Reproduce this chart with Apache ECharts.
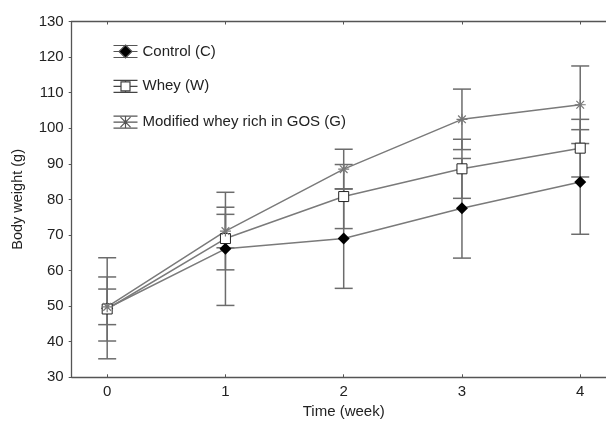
<!DOCTYPE html>
<html>
<head>
<meta charset="utf-8">
<script src="https://cdn.jsdelivr.net/npm/echarts@6/dist/echarts.min.js"></script>
<style>html,body{margin:0;padding:0;background:#fff}#c{width:606px;height:423px}</style>
</head>
<body>
<div id="c"></div>
<script>
// ---- data ----
const weeks = [0, 1, 2, 3, 4];
const xTickValues = [0, 1, 2, 3, 4];
const seriesNames = ['Control (C)', 'Whey (W)', 'Modified whey rich in GOS (G)'];
const controlMean = [49.4, 66.1, 69.0, 77.5, 84.9];
const controlErr  = [14.2, 15.9, 14.0, 14.0, 14.7];
const wheyMean    = [49.2, 69.0, 80.8, 88.6, 94.4];
const wheyErr     = [9.0, 8.8, 9.0, 8.3, 8.1];
const gosMean     = [49.8, 71.1, 88.5, 102.5, 106.6];
const gosErr      = [5.0, 4.7, 5.6, 8.5, 10.9];

const FONT = 'Liberation Sans, Arial, sans-serif';
const LINE = '#7a7a7a';
const ERR = '#6c6c6c';

function pts(mean) { return weeks.map((w, i) => [w, mean[i]]); }
function errs(mean, err) { return weeks.map((w, i) => [w, mean[i] - err[i], mean[i] + err[i]]); }

function errRender(params, api) {
  const x = api.value(0), lo = api.value(1), hi = api.value(2);
  const a = api.coord([x, lo]), b = api.coord([x, hi]);
  const w = 9;
  const st = { stroke: ERR, lineWidth: 1.5 };
  return {
    type: 'group',
    children: [
      { type: 'line', shape: { x1: a[0], y1: a[1], x2: b[0], y2: b[1] }, style: st },
      { type: 'line', shape: { x1: a[0] - w, y1: a[1], x2: a[0] + w, y2: a[1] }, style: st },
      { type: 'line', shape: { x1: b[0] - w, y1: b[1], x2: b[0] + w, y2: b[1] }, style: st }
    ]
  };
}

const asterisk = 'path://M5,0L5,10M0,5L10,5M1.5,1.5L8.5,8.5M8.5,1.5L1.5,8.5';
const caps = 'M0,1L24,1M0,13L24,13';

const chart = echarts.init(document.getElementById('c'), null, { renderer: 'canvas' });
chart.setOption({
  animation: false,
  backgroundColor: '#fff',
  textStyle: { fontFamily: FONT },
  grid: { left: 71.7, right: -9.7, top: 21.5, bottom: 45.7, containLabel: false, outerBoundsMode: 'none' },
  legend: {
    orient: 'vertical',
    left: 106,
    top: 39,
    itemWidth: 24,
    itemHeight: 14,
    itemGap: 19.8,
    textStyle: { fontFamily: FONT, fontSize: 15, color: '#222', lineHeight: 14 },
    data: [
      { name: seriesNames[0], icon: 'path://' + caps + 'M0,7L5.5,7M18.5,7L24,7M12,0.5L18.5,7L12,13.5L5.5,7Z',
        itemStyle: { color: '#000', borderColor: '#555', borderWidth: 1.2 } },
      { name: seriesNames[1], icon: 'path://' + caps + 'M0,7L7.5,7M16.5,7L24,7M12,1L12,2.5M12,11.5L12,13M7.5,2.5L16.5,2.5L16.5,11.5L7.5,11.5Z',
        itemStyle: { color: '#fff', borderColor: '#444', borderWidth: 1.2 } },
      { name: seriesNames[2], icon: 'path://' + caps + 'M0,7L24,7M12,1L12,13M7,2L17,12M17,2L7,12',
        itemStyle: { color: 'none', borderColor: '#555', borderWidth: 1.2 } }
    ]
  },
  xAxis: [{
    type: 'value', min: -0.3, max: 4.3,
    name: 'Time (week)', nameLocation: 'middle', nameGap: 27,
    nameTextStyle: { fontFamily: FONT, fontSize: 15, color: '#222' },
    axisLine: { show: true, onZero: false, lineStyle: { color: '#555', width: 1.3 } },
    axisTick: { show: true, inside: true, length: 3, customValues: xTickValues, lineStyle: { color: '#555' } },
    axisLabel: { customValues: xTickValues, fontFamily: FONT, fontSize: 15, color: '#222', margin: 7 },
    splitLine: { show: false }
  }, {
    type: 'value', position: 'top', min: -0.3, max: 4.3,
    axisLine: { show: true, onZero: false, lineStyle: { color: '#555', width: 1.3 } },
    axisTick: { show: true, inside: true, length: 3, customValues: xTickValues, lineStyle: { color: '#555' } },
    axisLabel: { show: false },
    splitLine: { show: false }
  }],
  yAxis: {
    type: 'value', min: 30, max: 130, interval: 10,
    name: 'Body weight (g)', nameLocation: 'middle', nameGap: 46, nameRotate: 90,
    nameTextStyle: { fontFamily: FONT, fontSize: 14.5, color: '#222' },
    axisLine: { show: true, onZero: false, lineStyle: { color: '#555', width: 1.3 } },
    axisTick: { show: true, inside: false, length: 3, lineStyle: { color: '#555' } },
    axisLabel: { fontFamily: FONT, fontSize: 15, color: '#222', margin: 8 },
    splitLine: { show: false }
  },
  series: [
    { type: 'custom', name: 'errC', renderItem: errRender, data: errs(controlMean, controlErr), encode: { x: 0, y: [1, 2] }, z: 1 },
    { type: 'custom', name: 'errW', renderItem: errRender, data: errs(wheyMean, wheyErr), encode: { x: 0, y: [1, 2] }, z: 1 },
    { type: 'custom', name: 'errG', renderItem: errRender, data: errs(gosMean, gosErr), encode: { x: 0, y: [1, 2] }, z: 1 },
    { type: 'line', name: seriesNames[0], data: pts(controlMean), symbol: 'diamond', symbolSize: 12,
      itemStyle: { color: '#000' }, lineStyle: { color: LINE, width: 1.5 }, z: 3 },
    { type: 'line', name: seriesNames[1], data: pts(wheyMean), symbol: 'rect', symbolSize: 10,
      itemStyle: { color: '#fff', borderColor: '#222', borderWidth: 1 }, lineStyle: { color: LINE, width: 1.5 }, z: 3 },
    { type: 'line', name: seriesNames[2], data: pts(gosMean), symbol: asterisk, symbolSize: 11,
      itemStyle: { color: 'none', borderColor: '#777', borderWidth: 1.2 }, lineStyle: { color: LINE, width: 1.5 }, z: 3 }
  ]
});
</script>
</body>
</html>
